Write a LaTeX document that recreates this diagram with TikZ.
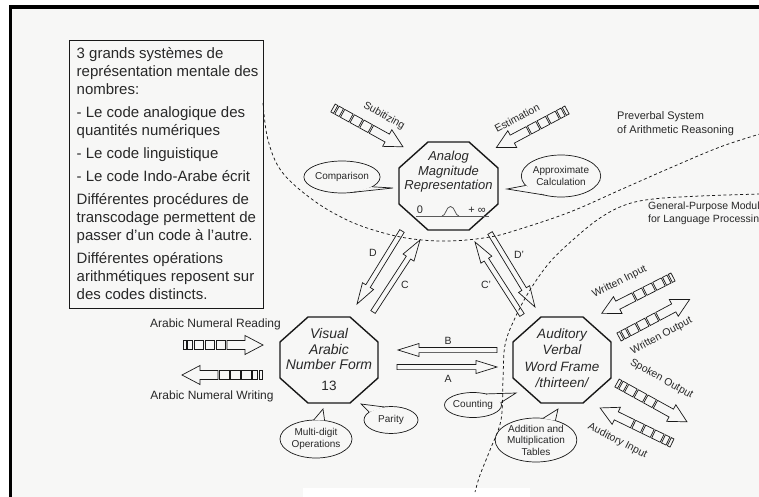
\documentclass[tikz,border=0pt]{standalone}
\usepackage{fontspec}
\setmainfont{Liberation Sans}
\usetikzlibrary{calc,shapes.geometric}
\definecolor{bg}{RGB}{247,247,246}
\definecolor{ink}{RGB}{25,25,25}
\definecolor{txt}{RGB}{40,40,40}
\newcommand{\octagon}[3]{%
  \draw[octline] ([xshift=#2pt]#1.north west) -- ([xshift=-#2pt]#1.north east)
    -- ([yshift=-#3pt]#1.north east) -- ([yshift=#3pt]#1.south east)
    -- ([xshift=-#2pt]#1.south east) -- ([xshift=#2pt]#1.south west)
    -- ([yshift=#3pt]#1.south west) -- ([yshift=-#3pt]#1.north west) -- cycle;}
\newcommand{\hollowarrow}[2]{%
  \coordinate (hb) at ($(#2)!21pt!(#1)$);
  \filldraw[harr] ($(#1)!2.6pt!90:(#2)$) -- ($(hb)!2.6pt!-90:(#1)$) -- ($(hb)!6.5pt!-90:(#1)$)
    -- (#2) -- ($(hb)!6.5pt!90:(#1)$) -- ($(hb)!2.6pt!90:(#1)$) -- ($(#1)!2.6pt!-90:(#2)$) -- cycle;}
\newcommand{\tapearrow}[3]{%
  \begin{scope}[shift={(#1,#2)}, rotate=#3]
    \draw[tapeline] (0,-4.5) rectangle (3,4.5);
    \draw[tapeline] (4.5,-4.5) rectangle (9.5,4.5);
    \draw[tapeline] (11,-4.5) rectangle (20.5,4.5);
    \draw[tapeline] (22,-4.5) rectangle (31.5,4.5);
    \draw[tapeline] (33,-4.5) rectangle (42.5,4.5);
    \draw[tapeline] (44,-4.5) -- (62,-4.5) -- (62,-9.5) -- (80,0) -- (62,9.5) -- (62,4.5) -- (44,4.5) -- cycle;
  \end{scope}}
\newcommand{\bubtail}[4]{%
  \filldraw[tail] (#1.#2) -- (#4) -- (#1.#3);}
\begin{document}
\begin{tikzpicture}[x=1pt,y=-1pt,
  octline/.style={line width=1.4pt, line join=miter, draw=ink},
  octbox/.style={minimum width=#1, inner sep=0pt, outer sep=0pt},
  octtxt/.style={font=\itshape\fontsize{13}{14.5}\selectfont, align=center, text=txt, inner sep=0pt},
  harr/.style={line width=0.7pt, draw=ink, fill=bg},
  tapeline/.style={line width=0.7pt, draw=ink, fill=bg},
  tail/.style={line width=0.7pt, draw=ink, fill=bg},
  bub/.style={draw=ink, ellipse, fill=bg, line width=0.7pt, inner sep=0pt, outer sep=0pt,
     font=\fontsize{10}{11.5}\selectfont, align=center, text=txt},
  lbl/.style={font=\fontsize{10.5}{12}\selectfont, text=txt, inner sep=0pt},
  biglbl/.style={font=\fontsize{12}{14}\selectfont, text=txt, inner sep=0pt},
  ltr/.style={font=\fontsize{10.5}{12}\selectfont, text=txt, inner sep=0pt},
  bound/.style={draw=ink, dash pattern=on 3pt off 2.6pt, line width=0.75pt},
]
\useasboundingbox (0,0) rectangle (759,497);
\fill[white] (0,0) rectangle (759,497);
\fill[bg] (10,6) rectangle (759,497);
\fill[white] (303,488) rectangle (530,497);
\draw[black, line width=3.5pt] (10.5,497) -- (10.5,7.25) -- (759,7.25);

% info box
\node[draw=ink, line width=0.9pt, minimum width=194pt, minimum height=268pt, anchor=north west,
      inner sep=0pt, outer sep=0pt] (info) at (69,40) {};
\node[anchor=north west, align=left, inner sep=0pt, text=txt,
      font=\fontsize{15}{18}\selectfont] (infotext) at (76.5,47.5) {%
3 grands systèmes de\\
représentation mentale des\\
nombres:\\[5pt]
- Le code analogique des\\
quantités numériques\\[5pt]
- Le code linguistique\\[5pt]
- Le code Indo-Arabe écrit\\[5pt]
Différentes procédures de\\
transcodage permettent de\\
passer d'un code à l'autre.\\[5pt]
Différentes opérations\\
arithmétiques reposent sur\\
des codes distincts.};

% octagons
\node[octbox=99pt, minimum height=88pt] (amr) at (448.5,186) {};
\octagon{amr}{29}{26}
\node[octtxt] (amrtxt) at (448.5,172) {Analog\\Magnitude\\Representation};
\draw[gray!70!black, line width=0.8pt] (416,216) -- (489,216);
\draw[gray!70!black, line width=0.8pt] (442,216) .. controls (446,216) and (446,206.5) .. (450.5,206.5)
   .. controls (455,206.5) and (455,216) .. (459,216);
\node[font=\fontsize{11}{12}\selectfont, text=txt, inner sep=0pt] (zero) at (420,210) {0};
\node[font=\fontsize{11}{12}\selectfont, text=txt, inner sep=0pt] (inf) at (477,210) {+ ∞};

\node[octbox=98pt, minimum height=86pt] (vaf) at (329,360) {};
\octagon{vaf}{28}{25}
\node[octtxt, font=\itshape\fontsize{14}{15.5}\selectfont] (vaftxt) at (329,349) {Visual\\Arabic\\Number Form};
\node[octtxt, font=\fontsize{13.5}{14.5}\selectfont] (thirteen) at (329,386) {13};

\node[octbox=98pt, minimum height=86pt] (avw) at (562,360) {};
\octagon{avw}{28}{25}
\node[octtxt, font=\itshape\fontsize{13.5}{16.5}\selectfont] (avwtxt) at (562,358) {Auditory\\Verbal\\Word Frame\\/thirteen/};

% hollow arrows between octagons
\coordinate (aS) at (397,367); \coordinate (aE) at (497,367);
\coordinate (bS) at (497,350); \coordinate (bE) at (398,350);
\coordinate (dS) at (402,231); \coordinate (dE) at (357,304);
\coordinate (cS) at (373,312); \coordinate (cE) at (420,240);
\coordinate (cpS) at (522,315); \coordinate (cpE) at (475,242);
\coordinate (dpS) at (490,233); \coordinate (dpE) at (535,307);
\hollowarrow{aS}{aE}
\hollowarrow{bS}{bE}
\hollowarrow{dS}{dE}
\hollowarrow{cS}{cE}
\hollowarrow{cpS}{cpE}
\hollowarrow{dpS}{dpE}
\node[lbl] (la) at (448,379) {A};
\node[lbl] (lb) at (448,341) {B};
\node[lbl] (lc) at (405,285) {C};
\node[lbl] (ld) at (373,253) {D};
\node[lbl] (lcp) at (486,285) {C'};
\node[lbl] (ldp) at (519,255) {D'};

% tape arrows
\tapearrow{183}{345}{0}
\tapearrow{262}{375}{180}
\tapearrow{333}{108}{-29}
\tapearrow{567}{110}{-152}
\tapearrow{673}{277}{-153}
\tapearrow{619}{337}{28}
\tapearrow{617}{383}{-29}
\tapearrow{672}{443}{154}
\node[biglbl] (lread) at (215.5,324) {Arabic Numeral Reading};
\node[biglbl] (lwrite) at (212,396) {Arabic Numeral Writing};
\node[lbl, rotate=-29] (lsub) at (384,116) {Subitizing};
\node[lbl, rotate=28] (lest) at (517,118) {Estimation};
\node[lbl, rotate=27] (lwi) at (619.5,282) {Written Input};
\node[lbl, rotate=28] (lwo) at (661.5,336) {Written Output};
\node[lbl, rotate=-29] (lso) at (661.5,379) {Spoken Output};
\node[lbl, rotate=-27] (lai) at (617.5,441) {Auditory Input};

% bubbles
\node[bub, minimum width=70pt, minimum height=32pt] (cmp) at (342,177) {Comparison};
\coordinate (cmpT) at (393,188);
\bubtail{cmp}{-18}{-52}{cmpT}
\node[bub, minimum width=73pt, minimum height=42pt] (apc) at (561,176) {Approximate\\Calculation};
\coordinate (apcT) at (507,189);
\bubtail{apc}{195}{228}{apcT}
\node[bub, minimum width=57pt, minimum height=25pt] (cnt) at (473,405) {Counting};
\coordinate (cntT) at (516,393);
\bubtail{cnt}{40}{5}{cntT}
\node[bub, minimum width=54pt, minimum height=27pt] (par) at (391,420) {Parity};
\coordinate (parT) at (361,404);
\bubtail{par}{160}{118}{parT}
\node[bub, minimum width=72pt, minimum height=38pt] (mdo) at (316,439) {Multi-digit\\Operations};
\coordinate (mdoT) at (323,409);
\bubtail{mdo}{97}{65}{mdoT}
\node[bub, minimum width=70pt, minimum height=44pt] (adt) at (536,440) {Addition and\\Multiplication\\Tables};
\coordinate (adtT) at (558,409);
\bubtail{adt}{72}{45}{adtT}

% region labels
\node[ltr, anchor=north west, align=left, font=\fontsize{11}{14}\selectfont] (pre) at (617,111) {Preverbal System\\of Arithmetic Reasoning};
\node[ltr, anchor=north west, align=left, font=\fontsize{10.5}{13}\selectfont] (gpm) at (648,202) {General-Purpose Module\\for Language Processing};

% boundaries
\draw[bound] plot[smooth, tension=0.6] coordinates {(263,103) (268,140) (282,172) (313,200) (347,220) (380,232) (413,239) (450,241) (490,237) (520,229) (570,212) (620,190) (670,168) (720,147) (760,134)};
\draw[bound] plot[smooth, tension=0.6] coordinates {(760,194) (700,196) (653,199) (625,205) (600,218) (575,238) (550,262) (530,290) (515,318) (505,345) (503,380) (501,420) (490,450) (480,475) (475,492)};
\end{tikzpicture}
\end{document}
